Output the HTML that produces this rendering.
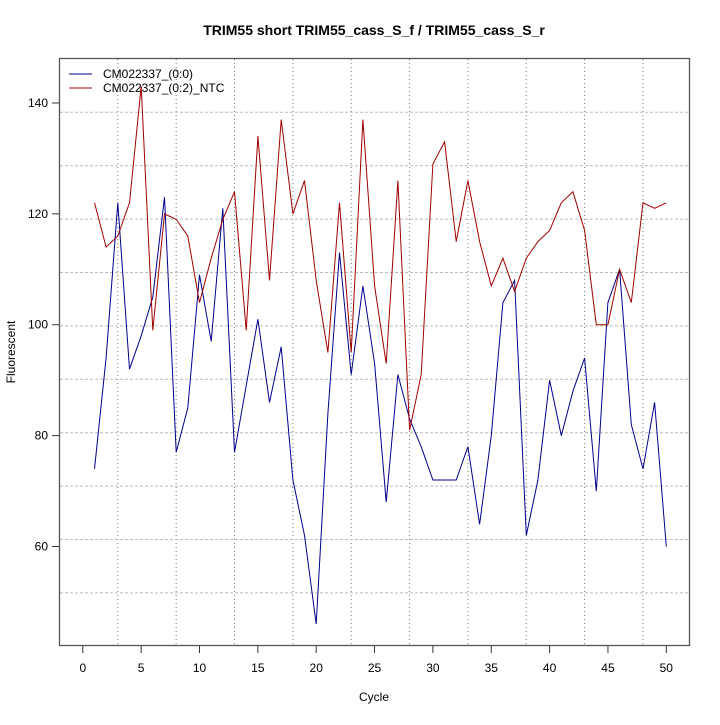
<!DOCTYPE html>
<html><head><meta charset="utf-8"><style>
body{margin:0;background:#fff}
svg text{font-family:"Liberation Sans",sans-serif;fill:#000}
</style></head><body>
<svg id="s" width="720" height="720" xmlns="http://www.w3.org/2000/svg">
<rect width="720" height="720" fill="#fff"/>
<text x="374" y="35" font-size="14" font-weight="bold" text-anchor="middle">TRIM55 short TRIM55_cass_S_f / TRIM55_cass_S_r</text>
<g id="grid" stroke="#777" stroke-width="1" stroke-dasharray="1,3"></g>
<g id="hgrid" stroke="#bbb" stroke-width="1" stroke-dasharray="3,2"></g>
<rect x="59.5" y="58.5" width="630" height="587" fill="none" stroke="#555" stroke-width="1.3"/>
<g id="ticks" stroke="#333" stroke-width="1"></g>
<g id="lbl" font-size="12"></g>
<text x="374" y="701" font-size="12" text-anchor="middle">Cycle</text>
<text x="15" y="352" font-size="12" text-anchor="middle" transform="rotate(-90 15 352)">Fluorescent</text>
<line x1="69" y1="74" x2="92" y2="74" stroke="#00008b"/>
<line x1="69" y1="88" x2="92" y2="88" stroke="#a00000"/>
<text x="103" y="78" font-size="12">CM022337_(0:0)</text>
<text x="103" y="92" font-size="12">CM022337_(0:2)_NTC</text>
<polyline id="blue" fill="none" stroke="#00008b" stroke-width="1"/>
<polyline id="red" fill="none" stroke="#a00000" stroke-width="1"/>
</svg>
<script>
var X=function(c){return 82.8+c*11.67},Y=function(v){return 546.5-(v-60)*5.544};
var ns="http://www.w3.org/2000/svg";
function el(p,t,a,txt){var e=document.createElementNS(ns,t);for(var k in a)e.setAttribute(k,a[k]);if(txt!==undefined)e.textContent=txt;document.getElementById(p).appendChild(e);}
for(var c=3;c<=48;c+=5)el("grid","line",{x1:X(c),x2:X(c),y1:59,y2:645});
for(var y=112.3;y<645;y+=53.4)el("hgrid","line",{x1:60,x2:689,y1:y,y2:y});
for(var c=0;c<=50;c+=5){el("ticks","line",{x1:X(c),x2:X(c),y1:646,y2:653});el("lbl","text",{x:X(c),y:672,"text-anchor":"middle"},c);}
for(var v=60;v<=140;v+=20){el("ticks","line",{x1:52,x2:59,y1:Y(v),y2:Y(v)});el("lbl","text",{x:48,y:Y(v)+4,"text-anchor":"end"},v);}
var b=[74,94,122,92,98,105,123,77,85,109,97,121,77,89,101,86,96,72,62,46,84,113,91,107,93,68,91,83,78,72,72,72,78,64,80,104,108,62,72,90,80,88,94,70,104,110,82,74,86,60];
var r=[122,114,116,122,143,99,120,119,116,104,112,119,124,99,134,108,137,120,126,108,95,122,95,137,107,93,126,81,91,129,133,115,126,115,107,112,106,112,115,117,122,124,117,100,100,110,104,122,121,122];
function pts(a){return a.map(function(v,i){return X(i+1).toFixed(1)+","+Y(v).toFixed(1)}).join(" ")}
document.getElementById("blue").setAttribute("points",pts(b));
document.getElementById("red").setAttribute("points",pts(r));
</script>
</body></html>
